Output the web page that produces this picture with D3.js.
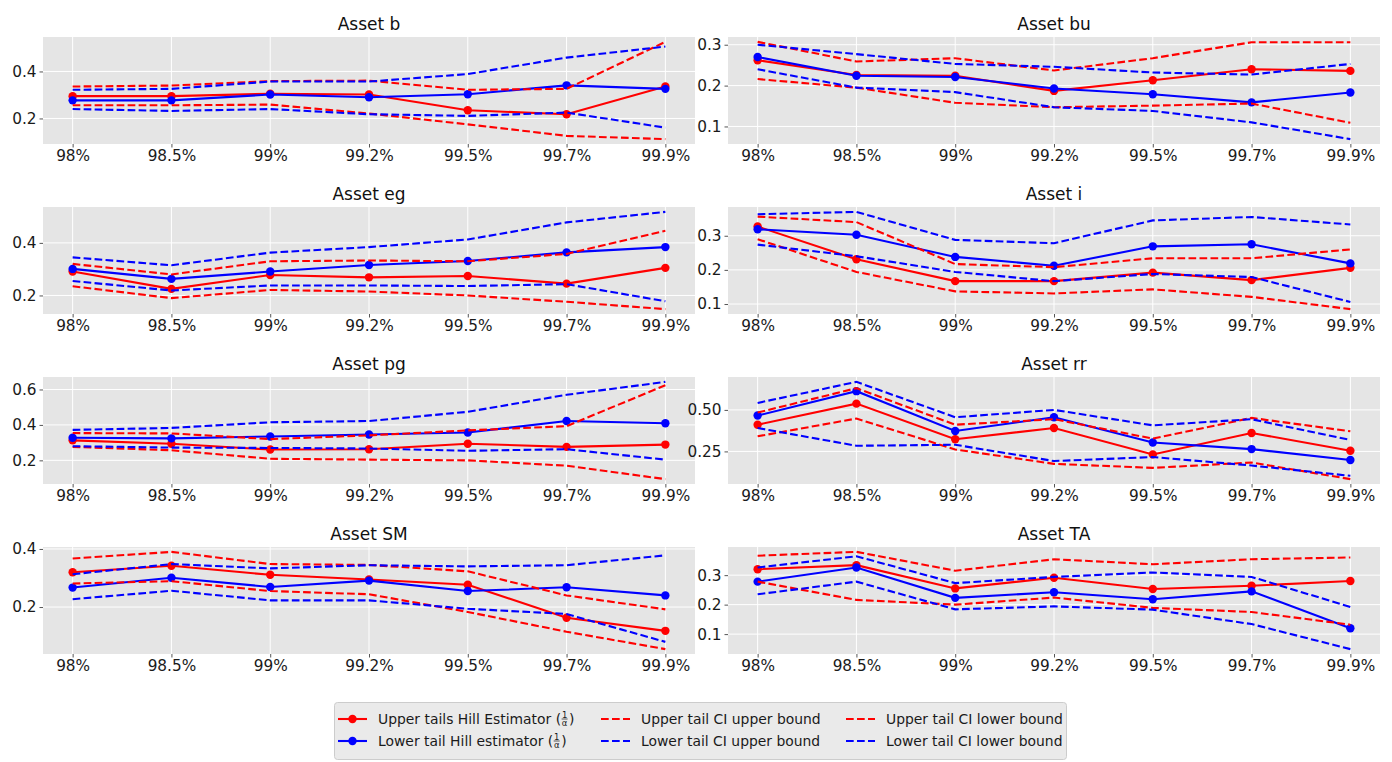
<!DOCTYPE html>
<html>
<head>
<meta charset="utf-8">
<script src="https://cdn.jsdelivr.net/npm/d3@7"></script>
<style>
  body { margin: 0; background: #fff; }
  text { font-family: "DejaVu Sans", sans-serif; }
</style>
</head>
<body>
<svg id="chart" width="1392" height="762"></svg>
<script>
// quantile levels on the x axis
const levels = ["98%", "98.5%", "99%", "99.2%", "99.5%", "99.7%", "99.9%"];
const assets = ["b", "bu", "eg", "i", "pg", "rr", "SM", "TA"];

// one row per asset, same order as assets
const upperHill = [
  [0.295, 0.295, 0.305, 0.302, 0.235, 0.218, 0.336],
  [0.262, 0.226, 0.224, 0.187, 0.213, 0.240, 0.236],
  [0.291, 0.225, 0.278, 0.269, 0.274, 0.245, 0.305],
  [0.327, 0.231, 0.167, 0.167, 0.192, 0.170, 0.206],
  [0.313, 0.294, 0.261, 0.263, 0.294, 0.276, 0.289],
  [0.411, 0.538, 0.323, 0.391, 0.232, 0.361, 0.254],
  [0.320, 0.342, 0.311, 0.295, 0.277, 0.163, 0.118],
  [0.320, 0.334, 0.255, 0.291, 0.253, 0.264, 0.280]
];
const lowerHill = [
  [0.277, 0.277, 0.302, 0.290, 0.303, 0.341, 0.326],
  [0.270, 0.224, 0.221, 0.193, 0.179, 0.159, 0.183],
  [0.301, 0.263, 0.291, 0.316, 0.331, 0.364, 0.384],
  [0.319, 0.303, 0.238, 0.212, 0.269, 0.275, 0.219],
  [0.328, 0.324, 0.335, 0.346, 0.357, 0.422, 0.409],
  [0.466, 0.613, 0.373, 0.456, 0.304, 0.264, 0.198],
  [0.267, 0.301, 0.269, 0.291, 0.255, 0.268, 0.240],
  [0.278, 0.326, 0.223, 0.242, 0.218, 0.245, 0.120]
];
const upperCiUp = [
  [0.336, 0.340, 0.359, 0.361, 0.322, 0.326, 0.526],
  [0.307, 0.259, 0.267, 0.237, 0.267, 0.306, 0.306],
  [0.320, 0.280, 0.330, 0.333, 0.330, 0.358, 0.446],
  [0.356, 0.340, 0.217, 0.208, 0.234, 0.234, 0.260],
  [0.354, 0.352, 0.320, 0.341, 0.369, 0.393, 0.624],
  [0.484, 0.631, 0.411, 0.444, 0.327, 0.452, 0.371],
  [0.367, 0.390, 0.348, 0.345, 0.323, 0.240, 0.192],
  [0.366, 0.379, 0.315, 0.354, 0.337, 0.354, 0.360]
];
const lowerCiUp = [
  [0.322, 0.326, 0.357, 0.357, 0.389, 0.459, 0.506],
  [0.300, 0.277, 0.253, 0.246, 0.232, 0.227, 0.253],
  [0.345, 0.315, 0.363, 0.384, 0.413, 0.478, 0.518],
  [0.363, 0.370, 0.288, 0.278, 0.345, 0.355, 0.333],
  [0.372, 0.383, 0.415, 0.422, 0.474, 0.570, 0.643],
  [0.542, 0.669, 0.456, 0.500, 0.407, 0.444, 0.319],
  [0.313, 0.348, 0.333, 0.344, 0.340, 0.344, 0.378],
  [0.326, 0.364, 0.273, 0.294, 0.309, 0.294, 0.192]
];
const upperCiLow = [
  [0.256, 0.256, 0.259, 0.221, 0.175, 0.126, 0.112],
  [0.216, 0.195, 0.158, 0.147, 0.151, 0.156, 0.109],
  [0.235, 0.190, 0.221, 0.215, 0.200, 0.176, 0.148],
  [0.290, 0.194, 0.137, 0.131, 0.143, 0.121, 0.085],
  [0.276, 0.257, 0.209, 0.204, 0.200, 0.170, 0.094],
  [0.341, 0.448, 0.262, 0.175, 0.151, 0.183, 0.083],
  [0.281, 0.289, 0.255, 0.244, 0.183, 0.115, 0.055],
  [0.278, 0.216, 0.200, 0.224, 0.189, 0.175, 0.132]
];
const lowerCiLow = [
  [0.240, 0.232, 0.240, 0.218, 0.211, 0.225, 0.161],
  [0.240, 0.195, 0.184, 0.147, 0.138, 0.110, 0.069],
  [0.255, 0.219, 0.238, 0.238, 0.236, 0.243, 0.178],
  [0.274, 0.240, 0.194, 0.167, 0.188, 0.179, 0.106],
  [0.280, 0.272, 0.270, 0.267, 0.254, 0.263, 0.204],
  [0.391, 0.284, 0.290, 0.192, 0.216, 0.165, 0.103],
  [0.227, 0.256, 0.223, 0.223, 0.194, 0.176, 0.080],
  [0.235, 0.278, 0.184, 0.194, 0.183, 0.134, 0.049]
];
// y tick values shown on each panel
const yTicks = [
  [0.2, 0.4], [0.1, 0.2, 0.3], [0.2, 0.4], [0.1, 0.2, 0.3],
  [0.2, 0.4, 0.6], [0.25, 0.5], [0.2, 0.4], [0.1, 0.2, 0.3]
];

const series = [
  { name: "Upper tails Hill Estimator", frac: true, data: upperHill, color: "red", dash: null, marker: true },
  { name: "Lower tail Hill estimator", frac: true, data: lowerHill, color: "blue", dash: null, marker: true },
  { name: "Upper tail CI upper bound", data: upperCiUp, color: "red", dash: "7.7,3.3" },
  { name: "Lower tail CI upper bound", data: lowerCiUp, color: "blue", dash: "7.7,3.3" },
  { name: "Upper tail CI lower bound", data: upperCiLow, color: "red", dash: "7.7,3.3" },
  { name: "Lower tail CI lower bound", data: lowerCiLow, color: "blue", dash: "7.7,3.3" }
];

const svg = d3.select("#chart");
const colX = [43, 728], pw = 652;
const rowY = 37, ph = 107, rowStep = 170;

assets.forEach((a, k) => {
  const c = k % 2, r = Math.floor(k / 2);
  const x0 = colX[c], y0 = rowY + r * rowStep;
  const g = svg.append("g");

  const all = series.flatMap(s => s.data[k]);
  const [lo, hi] = d3.extent(all);
  const pad = (hi - lo) * 0.05;

  const x = d3.scaleLinear().domain([-0.3, levels.length - 0.7]).range([x0, x0 + pw]);
  const y = d3.scaleLinear().domain([lo - pad, hi + pad]).range([y0 + ph, y0]);

  g.append("rect").attr("x", x0).attr("y", y0).attr("width", pw).attr("height", ph)
    .attr("fill", "#E5E5E5");

  // grid
  g.selectAll(".gx").data(d3.range(levels.length)).join("line")
    .attr("x1", d => x(d)).attr("x2", d => x(d)).attr("y1", y0).attr("y2", y0 + ph)
    .attr("stroke", "#fff").attr("stroke-width", 1);
  g.selectAll(".gy").data(yTicks[k]).join("line")
    .attr("x1", x0).attr("x2", x0 + pw).attr("y1", d => y(d)).attr("y2", d => y(d))
    .attr("stroke", "#fff").attr("stroke-width", 1);

  const fmt = yTicks[k].some(v => Math.round(v * 10) !== v * 10) ? d3.format(".2f") : d3.format(".1f");

  const xAxis = g.append("g").attr("transform", `translate(0,${y0 + ph})`)
    .call(d3.axisBottom(x).tickValues(d3.range(levels.length)).tickFormat(i => levels[i])
      .tickSize(3.5).tickPadding(3).tickSizeOuter(0));
  const yAxis = g.append("g").attr("transform", `translate(${x0},0)`)
    .call(d3.axisLeft(y).tickValues(yTicks[k]).tickFormat(fmt)
      .tickSize(3.5).tickPadding(3).tickSizeOuter(0));
  [xAxis, yAxis].forEach(ax => {
    ax.select(".domain").remove();
    ax.selectAll(".tick line").attr("stroke", "#555");
    ax.selectAll(".tick text").attr("fill", "#1a1a1a").style("font-size", "15.3px")
      .style("font-family", "DejaVu Sans");
  });

  g.append("text").attr("x", x0 + pw / 2).attr("y", y0 - 7)
    .attr("text-anchor", "middle").style("font-size", "17px").attr("fill", "#111")
    .text("Asset " + a);

  const line = d3.line().x((d, i) => x(i)).y(d => y(d));
  series.forEach(s => {
    g.append("path").datum(s.data[k]).attr("d", line)
      .attr("fill", "none").attr("stroke", s.color).attr("stroke-width", 2.1)
      .attr("stroke-dasharray", s.dash);
    if (s.marker) {
      g.selectAll(null).data(s.data[k]).join("circle")
        .attr("cx", (d, i) => x(i)).attr("cy", d => y(d)).attr("r", 4.2)
        .attr("fill", s.color);
    }
  });
});

// legend
const lg = svg.append("g");
lg.append("rect").attr("x", 334.5).attr("y", 702.5).attr("width", 732).attr("height", 57)
  .attr("rx", 3).attr("fill", "#EAEAEA").attr("stroke", "#CCCCCC");
const legCols = [338, 601, 846], legRows = [719, 741];
series.forEach((s, i) => {
  const cx = legCols[Math.floor(i / 2)], cy = legRows[i % 2];
  lg.append("line").attr("x1", cx).attr("x2", cx + 29).attr("y1", cy).attr("y2", cy)
    .attr("stroke", s.color).attr("stroke-width", 2.1).attr("stroke-dasharray", s.dash);
  if (s.marker) lg.append("circle").attr("cx", cx + 14.5).attr("cy", cy).attr("r", 4.2).attr("fill", s.color);
  const tx = cx + 40;
  const t = lg.append("text").attr("x", tx).attr("y", cy).attr("dy", "0.35em")
    .style("font-size", "13.9px").attr("fill", "#1a1a1a").text(s.name + (s.frac ? " (" : ""));
  if (s.frac) {
    const w = t.node().getComputedTextLength();
    const fx = tx + w + 3.5;
    lg.append("text").attr("x", fx).attr("y", cy - 1.5).attr("text-anchor", "middle")
      .style("font-size", "8.5px").attr("fill", "#1a1a1a").text("1");
    lg.append("line").attr("x1", fx - 3).attr("x2", fx + 3).attr("y1", cy).attr("y2", cy)
      .attr("stroke", "#1a1a1a").attr("stroke-width", 0.7);
    lg.append("text").attr("x", fx).attr("y", cy + 7).attr("text-anchor", "middle")
      .style("font-size", "8.5px").attr("fill", "#1a1a1a").text("α");
    lg.append("text").attr("x", fx + 4.5).attr("y", cy).attr("dy", "0.35em")
      .style("font-size", "13.9px").attr("fill", "#1a1a1a").text(")");
  }
});
</script>
</body>
</html>
